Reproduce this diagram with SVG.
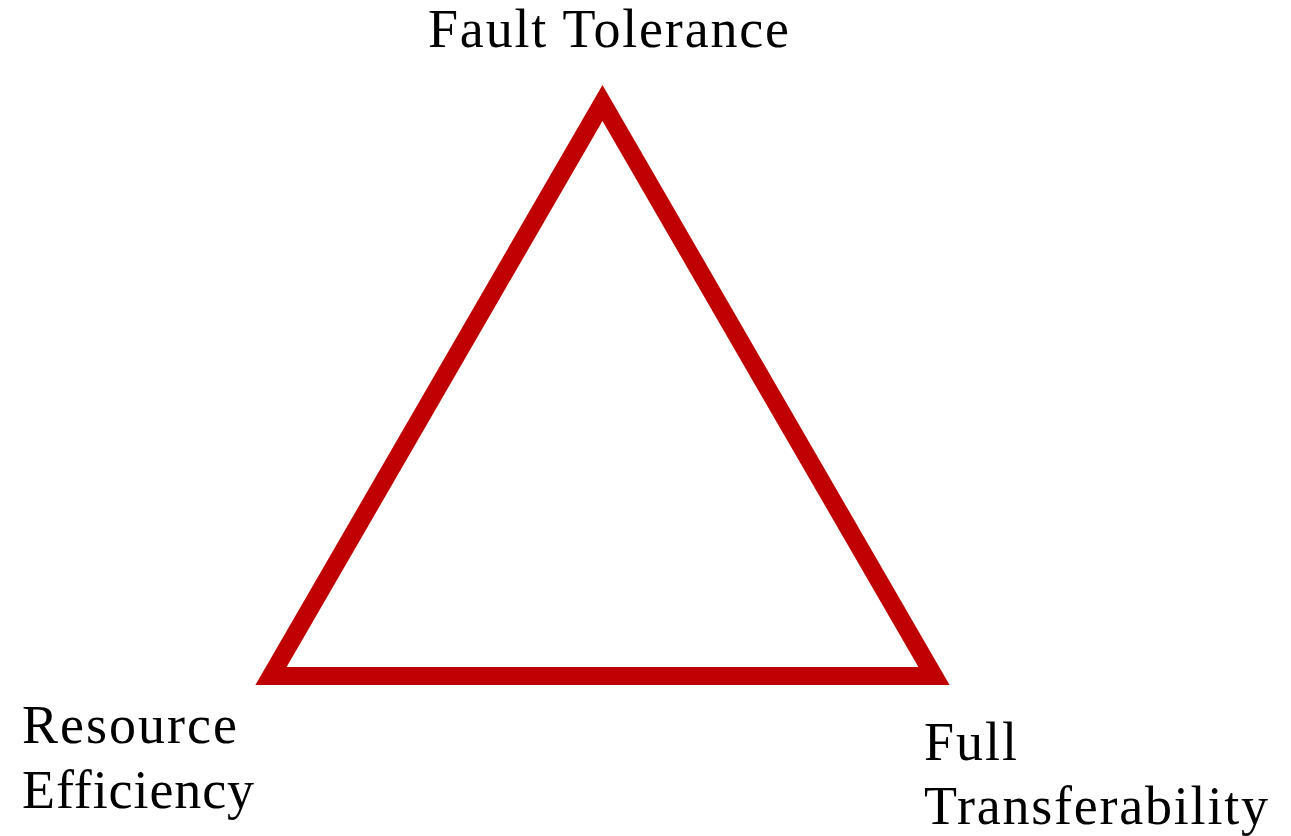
<svg xmlns="http://www.w3.org/2000/svg" width="1291" height="836" viewBox="0 0 1291 836">
<style>
.lbl{font-family:"Liberation Serif","Times New Roman",serif;font-size:54px;fill:#000}
.tri{fill:none;stroke:#C00000;stroke-width:18;stroke-linejoin:miter;stroke-miterlimit:10}
</style>
<rect width="1291" height="836" fill="#fff"/>
<g id="connectors">
<polygon class="tri" points="602.5,103 934,676 271,676"/>
</g>
<g id="fault-tolerance"><text class="lbl" x="428" y="47" textLength="361">Fault Tolerance</text></g>
<g id="resource-efficiency"><text class="lbl" x="22" y="743" textLength="215">Resource</text><text class="lbl" x="22" y="808" textLength="232">Efficiency</text></g>
<g id="full-transferability"><text class="lbl" x="924" y="760" textLength="93">Full</text><text class="lbl" x="924" y="824" textLength="344">Transferability</text></g>
</svg>
